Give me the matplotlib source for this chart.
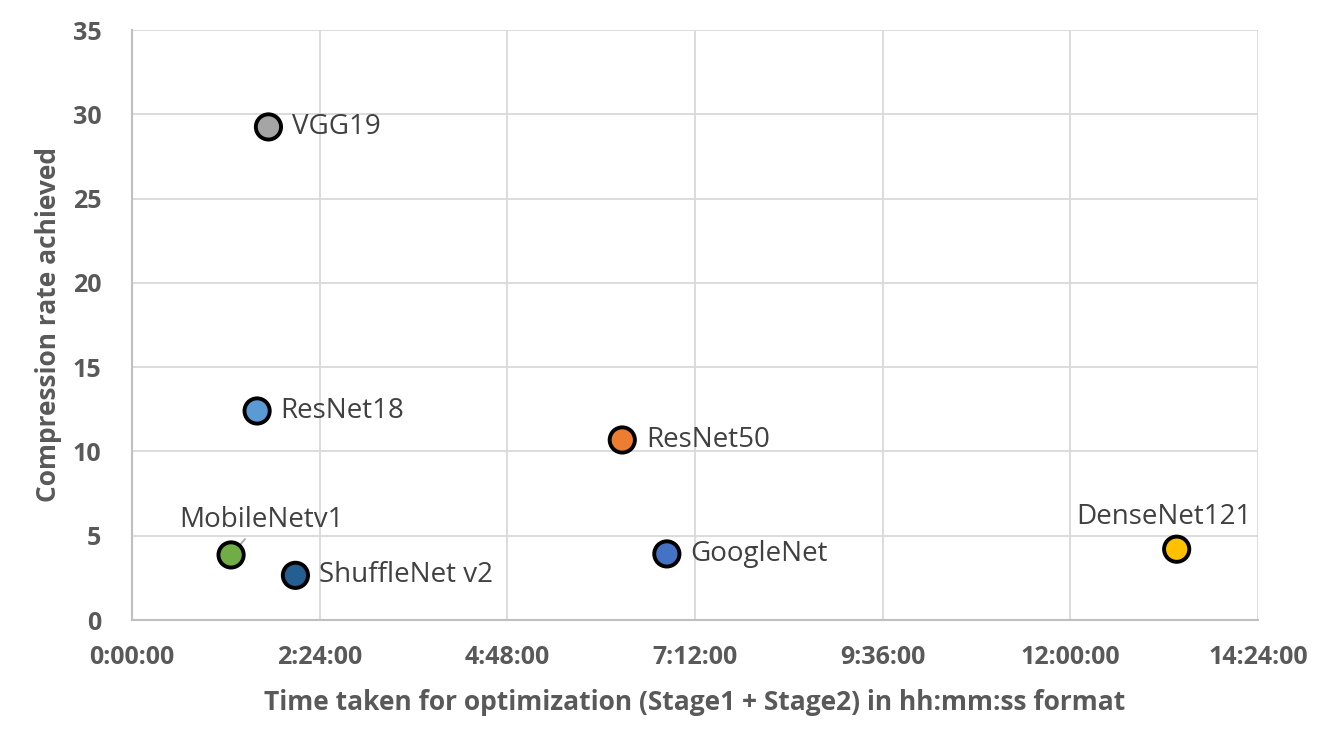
import matplotlib.pyplot as plt
from matplotlib.ticker import FuncFormatter, MultipleLocator

################################################################################

# DATA  (time in hours, compression rate)
models = ["VGG19", "ResNet18", "MobileNetv1", "ShuffleNet v2",
          "ResNet50", "GoogleNet", "DenseNet121"]
hours = [1.745, 1.60, 1.267, 2.09, 6.27, 6.84, 13.36]
rate = [29.25, 12.4, 3.86, 2.65, 10.68, 3.92, 4.2]
colors = ["#A5A5A5", "#5B9BD5", "#70AD47", "#255E91",
          "#ED7D31", "#4472C4", "#FFC000"]
# label offsets in points, alignment, leader line
offsets = {
    "VGG19": ((17, 0), "left", False),
    "ResNet18": ((17, 0), "left", False),
    "MobileNetv1": ((22, 25), "center", True),
    "ShuffleNet v2": ((17, 0), "left", False),
    "ResNet50": ((17, 0), "left", False),
    "GoogleNet": ((17, 0), "left", False),
    "DenseNet121": ((-9, 23), "center", True),
}

################################################################################

def hms(x, pos):
    total = int(round(x * 3600))
    h, rem = divmod(total, 3600)
    m, s = divmod(rem, 60)
    return f"{h}:{m:02d}:{s:02d}"

plt.rcParams['font.family'] = ['Open Sans', 'DejaVu Sans']

fig = plt.figure(figsize=(13.38, 7.5), dpi=100)
ax = fig.add_axes([132 / 1338, 1 - 620 / 750, 1126 / 1338, 590 / 750])

ax.scatter(hours, rate, s=330, c=colors, edgecolors="black", linewidths=2.8, zorder=3)

for name, x, y in zip(models, hours, rate):
    (dx, dy), ha, leader = offsets[name]
    arrow = dict(arrowstyle="-", color="#A6A6A6", lw=1.3, shrinkA=2, shrinkB=0) if leader else None
    ax.annotate(name, (x, y), xytext=(dx, dy), textcoords="offset points",
                ha=ha, va="center", fontsize=20, color="#404040",
                arrowprops=arrow, zorder=2)

ax.set_xlim(0, 14.4)
ax.set_ylim(0, 35)
ax.xaxis.set_major_locator(MultipleLocator(2.4))
ax.yaxis.set_major_locator(MultipleLocator(5))
ax.xaxis.set_major_formatter(FuncFormatter(hms))

ax.grid(True, color="#D9D9D9", linewidth=1.3, zorder=0)
ax.set_axisbelow(True)
for side in ["top", "right"]:
    ax.spines[side].set_visible(False)
for side in ["left", "bottom"]:
    ax.spines[side].set_color("#BFBFBF")
    ax.spines[side].set_linewidth(1.5)

ax.tick_params(length=0, labelsize=18, labelcolor="#595959")
ax.tick_params(axis="x", pad=18)
ax.tick_params(axis="y", pad=22)
for lbl in ax.get_xticklabels() + ax.get_yticklabels():
    lbl.set_fontweight("bold")

ax.set_xlabel("Time taken for optimization (Stage1 + Stage2) in hh:mm:ss format",
              fontsize=19, fontweight="bold", color="#595959", labelpad=14)
ax.set_ylabel("Compression rate achieved", fontsize=19, fontweight="bold",
              color="#595959", labelpad=8)

fig.savefig("out.png", dpi=100)
